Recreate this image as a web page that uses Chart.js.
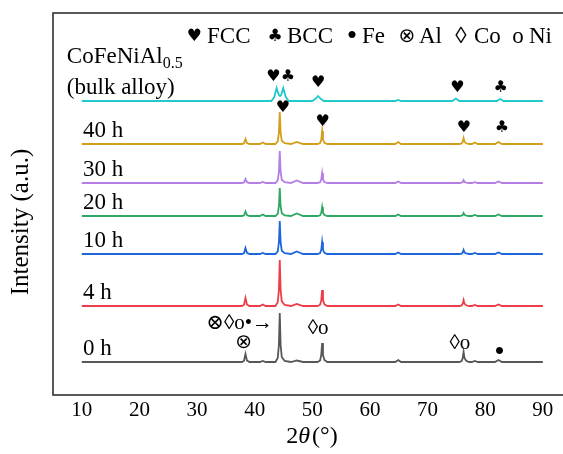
<!DOCTYPE html>
<html>
<head>
<meta charset="utf-8">
<script src="https://cdn.jsdelivr.net/npm/chart.js@4"></script>
<style>
  html, body { margin: 0; padding: 0; background: #fff; overflow: hidden; }
</style>
</head>
<body>
<canvas id="xrd" width="563" height="454"></canvas>
<script>
// 2theta grid shared by the milled powders
const twoTheta = [10, 37.8, 38.15, 38.4, 38.65, 39.1, 40.9, 41.4, 41.9,
  43.6, 44.0, 44.2, 44.35, 44.5, 44.7, 45.2, 46.3, 47.3, 48.4,
  50.9, 51.35, 51.55, 51.7, 51.85, 52.1, 52.6, 64.4, 64.9, 65.4,
  75.5, 75.9, 76.1, 76.25, 76.4, 76.7, 77.2, 77.7, 78.2, 78.7,
  81.7, 82.3, 82.9, 90];

const int0h  = [0, 0, 1.2, 8, 1.6, 0, 0, 1, 0, 0, 4, 17, 49, 17, 5, 1, 0, 1.5, 0,
  0, 1.5, 7, 19, 7, 2, 0, 0, 2, 0, 0, 1, 4, 10, 4, 1.2, 0, 0, 1, 0, 0, 2, 0, 0];
const int4h  = [0, 0, 1.2, 8, 1.6, 0, 0, 1.5, 0, 0, 3.7, 16, 46, 16, 4.6, 1, 0, 2, 0,
  0, 1.3, 5.6, 16, 5.6, 1.6, 0, 0, 1.5, 0, 0, 0.6, 2.4, 6, 2.4, 0.7, 0, 0, 1, 0, 0, 1.5, 0, 0];
const int10h = [0, 0, 0.9, 6, 1.2, 0, 0, 1, 0, 0, 2.6, 11.5, 33, 11.5, 3.3, 0.8, 0, 2.5, 0,
  0, 1, 4.2, 12, 4.2, 1.2, 0, 0, 1.5, 0, 0, 0.4, 1.6, 4, 1.6, 0.5, 0, 0, 1, 0, 0, 1.5, 0, 0];
const int20h = [0, 0, 0.7, 4.5, 0.9, 0, 0, 1.5, 0, 0, 2.2, 9.8, 28, 9.8, 2.8, 0.7, 0, 2.5, 0,
  0, 0.7, 3.2, 9, 3.2, 0.9, 0, 0, 1.5, 0, 0, 0.3, 1.2, 3, 1.2, 0.4, 0, 0, 1, 0, 0, 1.5, 0, 0];
const int30h = [0, 0, 0.6, 4, 0.8, 0, 0, 1, 0, 0, 2.6, 11.2, 32, 11.2, 3.2, 0.8, 0, 2.5, 0,
  0, 0.8, 3.5, 10, 3.5, 1, 0, 0, 1.5, 0, 0, 0.3, 1.2, 3, 1.2, 0.4, 0, 0, 0.8, 0, 0, 1.5, 0, 0];
const int40h = [0, 0, 0.8, 5, 1, 0, 0, 1.5, 0, 0, 2.6, 11.2, 32, 11.2, 3.2, 0.8, 0, 2, 0,
  0, 1, 4.5, 13, 4.5, 1.3, 0, 0, 2, 0, 0, 0.6, 2.4, 6, 2.4, 0.7, 0, 0, 1.5, 0, 0, 2, 0, 0];

// bulk alloy has its own grid (FCC+BCC doublet)
const bulkTheta = [10, 42.9, 43.4, 43.8, 44.2, 44.4, 44.6, 44.95, 45.4, 45.9,
  50.0, 50.6, 51.0, 51.4, 52.0, 64.4, 64.9, 65.4, 74.3, 74.9, 75.5, 82.0, 82.6, 83.2, 90];
const intBulk = [0, 0, 4, 13, 6, 5, 6, 13, 4, 0, 0, 2.5, 5, 2.5, 0, 0, 1, 0, 0, 2.5, 0, 0, 2, 0, 0];

const seriesNames = ['0 h', '4 h', '10 h', '20 h', '30 h', '40 h', 'bulk alloy'];
const seriesOffsets = [33, 89, 141, 179, 212, 251, 294];
const seriesColors = ['#575757', '#ee3d48', '#1f66dc', '#2fa865', '#b47ee4', '#d39f1a', '#22c9cb'];
const tickLabels = [10, 20, 30, 40, 50, 60, 70, 80, 90];

// phase legend
const phaseSymbols = ['♥', '♣', '•', '⊗', '◊', 'o'];
const phaseNames = ['FCC', 'BCC', 'Fe', 'Al', 'Co', 'Ni'];

// phase markers above the peaks
const markText = ['♥♣', '♥', '♥', '♣', '♥', '♥', '♥', '♣', '⊗◊o•→', '⊗', '◊o', '◊o', '•'];
const markX = [44.5, 51.0, 75.2, 82.7, 44.9, 51.8, 76.3, 82.9, 37.4, 38.1, 51.0, 75.6, 82.5];
const markY = [318, 312, 307, 307, 287, 273, 267, 267, 72, 52, 67, 52, 42];

const serif = '"Liberation Serif", "DejaVu Serif", serif';

const allInt = [int0h, int4h, int10h, int20h, int30h, int40h, intBulk];
const datasets = allInt.map((vals, i) => {
  const xs = i === 6 ? bulkTheta : twoTheta;
  return {
    label: seriesNames[i],
    data: xs.map((t, k) => ({ x: t, y: vals[k] + seriesOffsets[i] })),
    borderColor: seriesColors[i],
    borderWidth: 1.8,
    pointRadius: 0,
    tension: 0,
    fill: false
  };
});

function symbolFont(s) {
  if (/[♥♣]/.test(s)) return '17px "DejaVu Sans"';
  if (s === '⊗') return '20px "DejaVu Sans"';
  if (s === '•') return '30px ' + serif;
  return '23px ' + serif;
}

const textPlugin = {
  id: 'texts',
  afterDraw(chart) {
    const { ctx, chartArea: a } = chart;
    const x = chart.scales.x, y = chart.scales.y;
    ctx.save();
    // frame (right side falls outside the picture)
    ctx.strokeStyle = '#222';
    ctx.lineWidth = 1.5;
    ctx.beginPath();
    ctx.moveTo(chart.width, a.top);
    ctx.lineTo(a.left, a.top);
    ctx.lineTo(a.left, a.bottom);
    ctx.lineTo(chart.width, a.bottom);
    ctx.stroke();

    ctx.fillStyle = '#000';
    ctx.textBaseline = 'middle';
    ctx.textAlign = 'left';
    ctx.font = '23px ' + serif;
    for (let i = 0; i < 6; i++) {
      ctx.fillText(seriesNames[i], x.getPixelForValue(10.2), y.getPixelForValue(seriesOffsets[i]) - 13);
    }
    // bulk sample label
    const bx = x.getPixelForValue(7.4);
    const by = y.getPixelForValue(seriesOffsets[6]);
    ctx.fillText('CoFeNiAl', bx, by - 44);
    const w = ctx.measureText('CoFeNiAl').width;
    ctx.font = '16px ' + serif;
    ctx.fillText('0.5', bx + w, by - 37);
    ctx.font = '23px ' + serif;
    ctx.fillText('(' + seriesNames[6] + ')', bx, by - 13);

    // legend of phases
    const symX = [194, 275, 352, 407, 461, 518];
    const nameX = [207, 287, 362, 419, 474, 529];
    phaseSymbols.forEach((s, k) => {
      ctx.textAlign = 'center';
      ctx.font = symbolFont(s);
      ctx.fillText(s, symX[k], 37);
      ctx.textAlign = 'left';
      ctx.font = '23px ' + serif;
      ctx.fillText(phaseNames[k], nameX[k], 37);
    });

    // markers
    ctx.textAlign = 'center';
    markText.forEach((t, k) => {
      ctx.font = t.length === 1 ? symbolFont(t).replace('17px', '16px') : (/[♥♣]/.test(t) ? '16px "DejaVu Sans"' : '21px ' + serif);
      ctx.fillText(t, x.getPixelForValue(markX[k]), y.getPixelForValue(markY[k]));
    });

    // axis titles
    ctx.font = '25px ' + serif;
    ctx.save();
    ctx.translate(21, 222);
    ctx.rotate(-Math.PI / 2);
    ctx.fillText('Intensity (a.u.)', 0, 0);
    ctx.restore();

    ctx.textAlign = 'left';
    const parts = [['2', '24px ' + serif], ['θ', 'italic 24px ' + serif], ['(°)', '24px ' + serif]];
    let tw = 0;
    parts.forEach(p => { ctx.font = p[1]; tw += ctx.measureText(p[0]).width + (p[0] === 'θ' ? 2 : 0); });
    let cx = 312 - tw / 2;
    parts.forEach(p => {
      ctx.font = p[1];
      ctx.fillText(p[0], cx, 437);
      cx += ctx.measureText(p[0]).width + (p[0] === 'θ' ? 2 : 0);
    });
    ctx.restore();
  }
};

new Chart(document.getElementById('xrd'), {
  type: 'line',
  data: { datasets },
  options: {
    responsive: false,
    animation: false,
    layout: { padding: { left: 53, right: 0, top: 13, bottom: 0 } },
    plugins: { legend: { display: false }, tooltip: { enabled: false } },
    scales: {
      x: {
        type: 'linear',
        min: 5,
        max: 93.5,
        grid: { display: false, drawTicks: false },
        border: { display: false },
        afterBuildTicks: s => { s.ticks = tickLabels.map(v => ({ value: v })); },
        afterFit: s => { s.height = 59; },
        ticks: { color: '#000', padding: 3, font: { family: serif, size: 21 } }
      },
      y: {
        display: false,
        min: 0,
        max: 382
      }
    }
  },
  plugins: [textPlugin]
});
</script>
</body>
</html>
